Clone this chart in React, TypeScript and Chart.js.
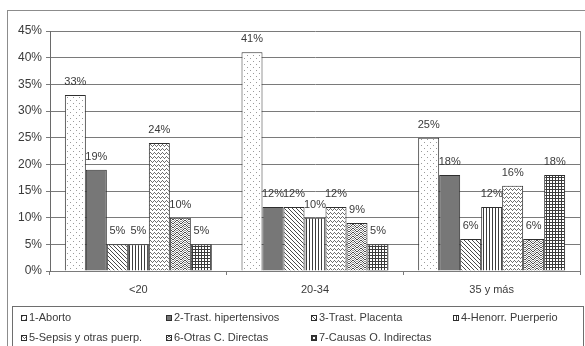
import React, { useEffect, useRef } from "react";
import { Chart, registerables } from "chart.js";

Chart.register(...registerables);

const categories = ["<20", "20-34", "35 y más"];
const seriesLabels = [
  "1-Aborto",
  "2-Trast. hipertensivos",
  "3-Trast. Placenta",
  "4-Henorr. Puerperio",
  "5-Sepsis y otras puerp.",
  "6-Otras C. Directas",
  "7-Causas O. Indirectas",
];
const aborto = [33, 41, 25];
const hipertensivos = [19, 12, 18];
const placenta = [5, 12, 6];
const puerperio = [5, 10, 12];
const sepsis = [24, 12, 16];
const otrasDirectas = [10, 9, 6];
const indirectas = [5, 5, 18];
const yTicks = [0, 5, 10, 15, 20, 25, 30, 35, 40, 45];

const FONT = "'Liberation Sans', Arial, sans-serif";
const TEXT = "#3a3a3a";
const EDGE = "#2e2e2e";

function tile(w: number, h: number, draw: (c: CanvasRenderingContext2D) => void) {
  const cv = document.createElement("canvas");
  cv.width = w;
  cv.height = h;
  const c = cv.getContext("2d")!;
  c.fillStyle = "#ffffff";
  c.fillRect(0, 0, w, h);
  draw(c);
  const ctx = document.createElement("canvas").getContext("2d")!;
  return ctx.createPattern(cv, "repeat")!;
}

function makeFills(): (CanvasPattern | string)[] {
  const dots = tile(6, 6, (c) => {
    c.fillStyle = "#9a9a9a";
    c.fillRect(1, 1, 1, 1);
    c.fillRect(4, 4, 1, 1);
  });
  const solid = "#777777";
  const diag = tile(4, 4, (c) => {
    c.fillStyle = "#4a4a4a";
    for (let i = 0; i < 4; i++) c.fillRect(i, i, 1, 1);
  });
  const vert = tile(3, 1, (c) => {
    c.fillStyle = "#3c3c3c";
    c.fillRect(0, 0, 1, 1);
  });
  const zig = tile(4, 4, (c) => {
    c.fillStyle = "#6e6e6e";
    const ys = [2, 1, 0, 1];
    ys.forEach((y, x) => c.fillRect(x, y, 1, 1));
  });
  const wave = tile(8, 4, (c) => {
    c.fillStyle = "#4a4a4a";
    const ys = [0, 0, 1, 2, 3, 3, 2, 1];
    ys.forEach((y, x) => c.fillRect(x, y, 1, 1));
    c.fillStyle = "#9a9a9a";
    ys.forEach((y, x) => c.fillRect(x, (y + 2) % 4, 1, 1));
  });
  const grid = tile(3, 3, (c) => {
    c.fillStyle = "#3a3a3a";
    c.fillRect(0, 0, 3, 1);
    c.fillRect(0, 0, 1, 3);
  });
  return [dots, solid, diag, vert, zig, wave, grid];
}

const framePlugin = {
  id: "frameAndLegend",
  beforeDraw(chart: any) {
    const { ctx } = chart;
    ctx.save();
    ctx.fillStyle = "#ffffff";
    ctx.fillRect(0, 0, chart.width, chart.height);
    ctx.strokeStyle = "#8c8c8c";
    ctx.lineWidth = 1;
    ctx.strokeRect(7.5, 10.5, 600, 400);
    ctx.restore();
  },
  afterDatasetsDraw(chart: any) {
    const { ctx, chartArea } = chart;
    ctx.save();
    // right edge of plot frame
    ctx.strokeStyle = "#8a8a8a";
    ctx.lineWidth = 1;
    ctx.beginPath();
    ctx.moveTo(Math.round(chartArea.right) + 0.5, chartArea.top);
    ctx.lineTo(Math.round(chartArea.right) + 0.5, chartArea.bottom);
    ctx.stroke();

    // value labels
    ctx.font = `11px ${FONT}`;
    ctx.fillStyle = TEXT;
    ctx.textAlign = "center";
    ctx.textBaseline = "middle";
    chart.data.datasets.forEach((ds: any, i: number) => {
      const meta = chart.getDatasetMeta(i);
      meta.data.forEach((bar: any, j: number) => {
        ctx.fillText(`${ds.data[j]}%`, bar.x, bar.y - 13);
      });
    });

    // legend
    ctx.strokeStyle = "#6e6e6e";
    ctx.strokeRect(12.5, 306.5, 571, 60);
    const colX = [21, 166, 311, 453];
    const rowY = [318, 338];
    ctx.textAlign = "left";
    chart.data.datasets.forEach((ds: any, i: number) => {
      const x = colX[i % 4];
      const y = rowY[Math.floor(i / 4)];
      ctx.fillStyle = ds.backgroundColor;
      ctx.fillRect(x, y - 3, 6, 6);
      ctx.strokeStyle = EDGE;
      ctx.strokeRect(x + 0.5, y - 2.5, 5, 5);
      ctx.fillStyle = TEXT;
      ctx.fillText(ds.label, x + 8, y);
    });
    ctx.restore();
  },
};

export default function App() {
  const ref = useRef<HTMLCanvasElement>(null);

  useEffect(() => {
    const fills = makeFills();
    const values = [aborto, hipertensivos, placenta, puerperio, sepsis, otrasDirectas, indirectas];
    const chart = new Chart(ref.current!, {
      type: "bar",
      data: {
        labels: categories,
        datasets: values.map((d, i) => ({
          label: seriesLabels[i],
          data: d,
          backgroundColor: fills[i] as any,
          borderColor: EDGE,
          borderWidth: 1,
          borderSkipped: "bottom",
          categoryPercentage: 0.832,
          barPercentage: 1,
        })),
      },
      options: {
        responsive: false,
        animation: false,
        devicePixelRatio: 1,
        layout: { padding: { left: 0, top: 31, right: 5, bottom: 40 } },
        plugins: { legend: { display: false }, tooltip: { enabled: false } },
        scales: {
          x: {
            grid: { offset: true, drawOnChartArea: false, drawTicks: true, tickLength: 4, color: "#7a7a7a" },
            border: { color: "#7a7a7a" },
            ticks: { font: { family: FONT, size: 11 }, color: TEXT, padding: 8 },
            afterFit: (s: any) => { s.height = 35; },
          },
          y: {
            min: 0,
            max: 45,
            afterBuildTicks: (s: any) => { s.ticks = yTicks.map((v) => ({ value: v })); },
            ticks: {
              font: { family: FONT, size: 12 },
              color: TEXT,
              padding: 4,
              callback: (v: any) => `${v}%`,
            },
            grid: { color: "#7a7a7a", tickLength: 4 },
            border: { color: "#6a6a6a" },
            afterFit: (s: any) => { s.width = 50; },
          },
        },
      },
      plugins: [framePlugin],
    });
    return () => chart.destroy();
  }, []);

  return (
    <div style={{ position: "absolute", left: 0, top: 0, width: 585, height: 346 }}>
      <canvas ref={ref} width={585} height={346} style={{ display: "block" }} />
    </div>
  );
}
